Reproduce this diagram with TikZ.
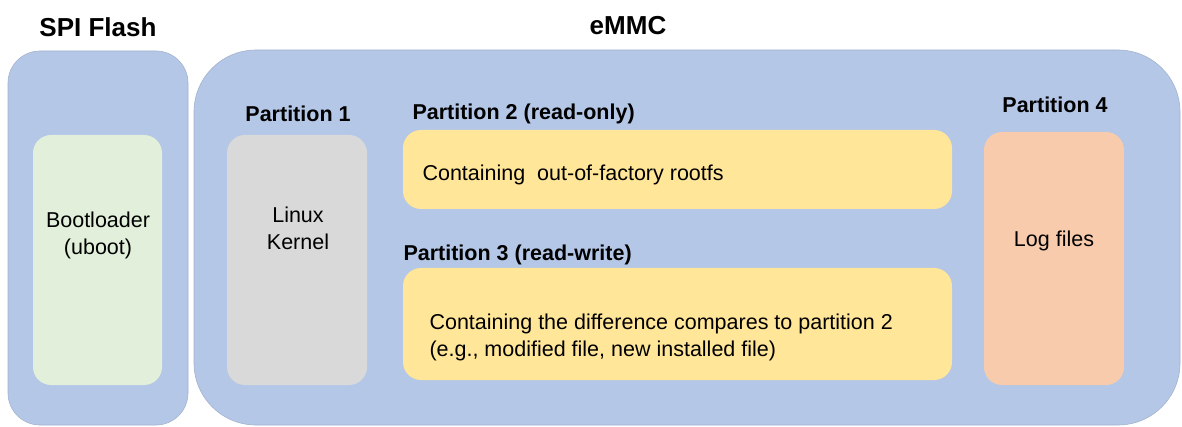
\documentclass[tikz,border=0pt]{standalone}
\usepackage{fontspec}
\setmainfont{Liberation Sans}
\definecolor{bluec}{HTML}{B4C7E7}
\definecolor{edgec}{HTML}{A3B3CF}
\definecolor{greenc}{HTML}{E2EFDA}
\definecolor{grayc}{HTML}{D9D9D9}
\definecolor{yellowc}{HTML}{FFE699}
\definecolor{peachc}{HTML}{F8CBAD}
\begin{document}
\begin{tikzpicture}[x=1pt,y=-1pt,
  outer/.style={draw=edgec, line width=0.6pt, fill=bluec, anchor=north west, inner sep=0pt, outer sep=0pt},
  part/.style={rounded corners=18pt, anchor=north west, inner sep=0pt, outer sep=0pt, draw=none},
  title/.style={font=\fontsize{26}{30}\selectfont\bfseries},
  plabel/.style={font=\fontsize{21.5}{26}\selectfont\bfseries},
  body/.style={font=\fontsize{21.5}{27}\selectfont, align=center}]
\useasboundingbox (0,0) rectangle (1182,427);
% outer boxes
\node[outer, rounded corners=32pt, minimum width=180pt, minimum height=374pt] (spi) at (8,51) {};
\node[outer, rounded corners=62pt, minimum width=986pt, minimum height=375pt] (emmc) at (194,50) {};
% titles
\node[title, anchor=base] (spit) at (98,37) {SPI Flash};
\node[title, anchor=base] (emmct) at (628,35) {eMMC};
% partitions
\node[part, fill=greenc, minimum width=129pt, minimum height=250pt] (boot) at (33,135) {};
\node[part, fill=grayc, minimum width=140pt, minimum height=250pt] (p1) at (227,135) {};
\node[part, fill=yellowc, minimum width=549pt, minimum height=79pt] (p2) at (403,130) {};
\node[part, fill=yellowc, minimum width=549pt, minimum height=112pt] (p3) at (403,268) {};
\node[part, fill=peachc, minimum width=140pt, minimum height=253pt] (p4) at (984,132) {};
% partition labels
\node[plabel, anchor=base] (p1l) at (298,122) {Partition 1};
\node[plabel, anchor=base west] (p2l) at (409,120) {Partition 2 (read-only)};
\node[plabel, anchor=base west] (p3l) at (400,261) {Partition 3 (read-write)};
\node[plabel, anchor=base] (p4l) at (1055,113) {Partition 4};
% texts
\node[body, anchor=base] (boott) at (98,255) {Bootloader\\(uboot)};
\node[body, anchor=base] (p1t) at (298,250) {Linux\\Kernel};
\node[body, anchor=base west] (p2t) at (419,181) {Containing\ \ out-of-factory rootfs};
\node[body, anchor=base west, align=left] (p3t) at (426,356) {Containing the difference compares to partition 2\\(e.g., modified file, new installed file)};
\node[body, anchor=base] (p4t) at (1054,247) {Log files};
\end{tikzpicture}
\end{document}
